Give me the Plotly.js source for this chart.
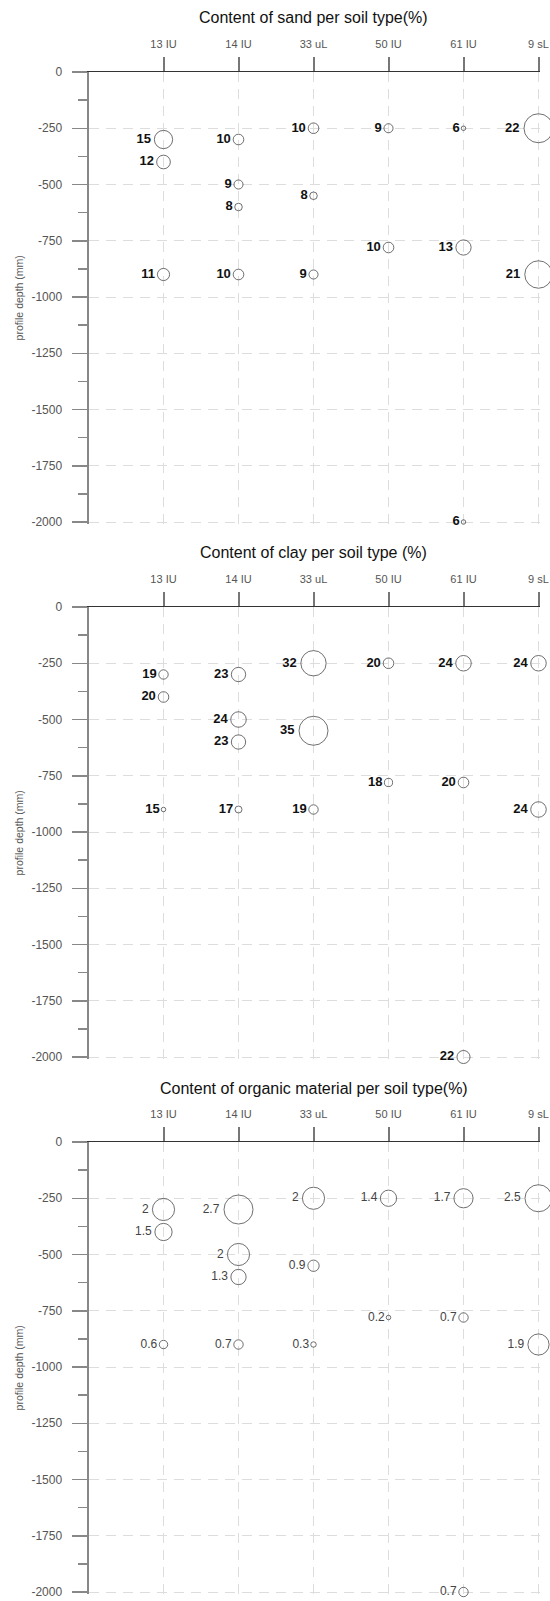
<!DOCTYPE html>
<html>
<head>
<meta charset="utf-8">
<script src="https://cdn.plot.ly/plotly-3.0.1.min.js"></script>
<style>
  html, body { margin: 0; padding: 0; background: #ffffff; }
  #chart { width: 550px; height: 1601px; }
</style>
</head>
<body>
<div id="chart"></div>
<script>
// Soil types along the top axis
const categories = ['13 IU', '14 IU', '33 uL', '50 IU', '61 IU', '9 sL'];

// Sampling points: soil type and depth (mm) of each sample
const sampleSoil = ['13 IU', '13 IU', '13 IU', '14 IU', '14 IU', '14 IU', '14 IU',
                    '33 uL', '33 uL', '33 uL', '50 IU', '50 IU',
                    '61 IU', '61 IU', '61 IU', '9 sL', '9 sL'];
const sampleDepth = [-300, -400, -900, -300, -500, -600, -900,
                     -250, -550, -900, -250, -780,
                     -250, -780, -2000, -250, -900];

// Measured contents (%) per sample
const sandValue    = [15, 12, 11, 10, 9, 8, 10, 10, 8, 9, 9, 10, 6, 13, 6, 22, 21];
const clayValue    = [19, 20, 15, 23, 24, 23, 17, 32, 35, 19, 20, 18, 24, 20, 22, 24, 24];
const organicValue = [2, 1.5, 0.6, 2.7, 2, 1.3, 0.7, 2, 0.9, 0.3, 1.4, 0.2, 1.7, 0.7, 0.7, 2.5, 1.9];

// Panel titles
const panelTitles = [
  'Content of sand per soil type(%)',
  'Content of clay per soil type (%)',
  'Content of organic material per soil type(%)'
];

// Depth axis ticks
const depthTicks = [0, -250, -500, -750, -1000, -1250, -1500, -1750, -2000];
const depthTickText = depthTicks.map(v => String(v));

const W = 550, H = 1601;
const FONT = 'Liberation Sans, Arial, sans-serif';
const panelTop = [72, 607, 1142];   // pixel position of depth 0 in each panel
const pxPerMm = 450 / 2000;
const colWidth = 75;                // pixels between two soil-type columns
const plotLeft = 88.5;
// small extra room past the last column / deepest tick so their grid lines are kept
const xPad = 0.02, yPad = 7;

// bubble diameter scales linearly between the smallest and largest value of a panel
function bubbleSizes(vals, dMin, dMax) {
  const lo = Math.min(...vals), hi = Math.max(...vals);
  return vals.map(v => dMin + (v - lo) / (hi - lo) * (dMax - dMin));
}

const series = [
  { values: sandValue, font: { family: FONT, size: 13, color: '#111111', weight: 'bold' } },
  { values: clayValue, font: { family: FONT, size: 13, color: '#111111', weight: 'bold' } },
  { values: organicValue, font: { family: FONT, size: 12, color: '#444444' } }
];

const traces = [];
const layout = {
  width: W, height: H,
  margin: { l: 0, r: 0, t: 0, b: 0 },
  paper_bgcolor: '#ffffff',
  plot_bgcolor: '#ffffff',
  showlegend: false,
  hovermode: false,
  annotations: []
};

const plotRight = plotLeft + colWidth * (6 + xPad);

series.forEach((s, i) => {
  const n = i === 0 ? '' : String(i + 1);
  traces.push({
    type: 'scatter',
    mode: 'markers+text',
    x: sampleSoil,
    y: sampleDepth,
    xaxis: 'x' + n,
    yaxis: 'y' + n,
    text: s.values.map(v => String(v)),
    textposition: 'middle left',
    textfont: s.font,
    cliponaxis: false,
    marker: {
      symbol: 'circle-open',
      size: bubbleSizes(s.values, 4.5, 29),
      color: '#333333',
      line: { width: 1, color: '#333333' }
    }
  });

  const top = panelTop[i];
  const bottom = top + (2000 + yPad) * pxPerMm;
  const yDom = [1 - bottom / H, 1 - top / H];

  layout['xaxis' + n] = {
    type: 'category',
    categoryorder: 'array',
    categoryarray: categories,
    range: [-1, 5 + xPad],
    domain: [plotLeft / W, plotRight / W],
    anchor: 'y' + n,
    side: 'top',
    fixedrange: true,
    showline: true,
    linecolor: '#333333',
    linewidth: 1.5,
    ticks: 'outside',
    ticklen: 14,
    tickwidth: 2,
    tickcolor: '#777777',
    ticklabelstandoff: 4,
    tickfont: { family: FONT, size: 11, color: '#555555' },
    showgrid: true,
    gridcolor: '#dddddd',
    gridwidth: 1,
    griddash: '10px,7px',
    zeroline: false
  };

  layout['yaxis' + n] = {
    range: [-2000 - yPad, 0],
    domain: yDom,
    anchor: 'x' + n,
    fixedrange: true,
    showline: true,
    linecolor: '#888888',
    linewidth: 2,
    ticks: 'outside',
    ticklen: 15,
    tickwidth: 1.5,
    tickcolor: '#888888',
    tickmode: 'array',
    tickvals: depthTicks,
    ticktext: depthTickText,
    ticklabelstandoff: 7,
    tickfont: { family: FONT, size: 12, color: '#555555' },
    minor: { dtick: 125, tick0: 0, ticks: 'outside', ticklen: 9, tickwidth: 1.5, tickcolor: '#888888', showgrid: false },
    showgrid: true,
    gridcolor: '#dddddd',
    gridwidth: 1,
    griddash: '10px,7px',
    zeroline: false,
    title: { text: 'profile depth (mm)', font: { family: FONT, size: 10.5, color: '#555555' }, standoff: 6 }
  };

  layout.annotations.push({
    text: panelTitles[i],
    xref: 'paper', yref: 'paper',
    x: ((plotLeft + plotLeft + 6 * colWidth) / 2) / W,
    y: 1 - (top - 54) / H,
    xanchor: 'center', yanchor: 'middle',
    showarrow: false,
    font: { family: FONT, size: 16, color: '#111111' }
  });
});

Plotly.newPlot('chart', traces, layout, { staticPlot: true, displayModeBar: false });
</script>
</body>
</html>
